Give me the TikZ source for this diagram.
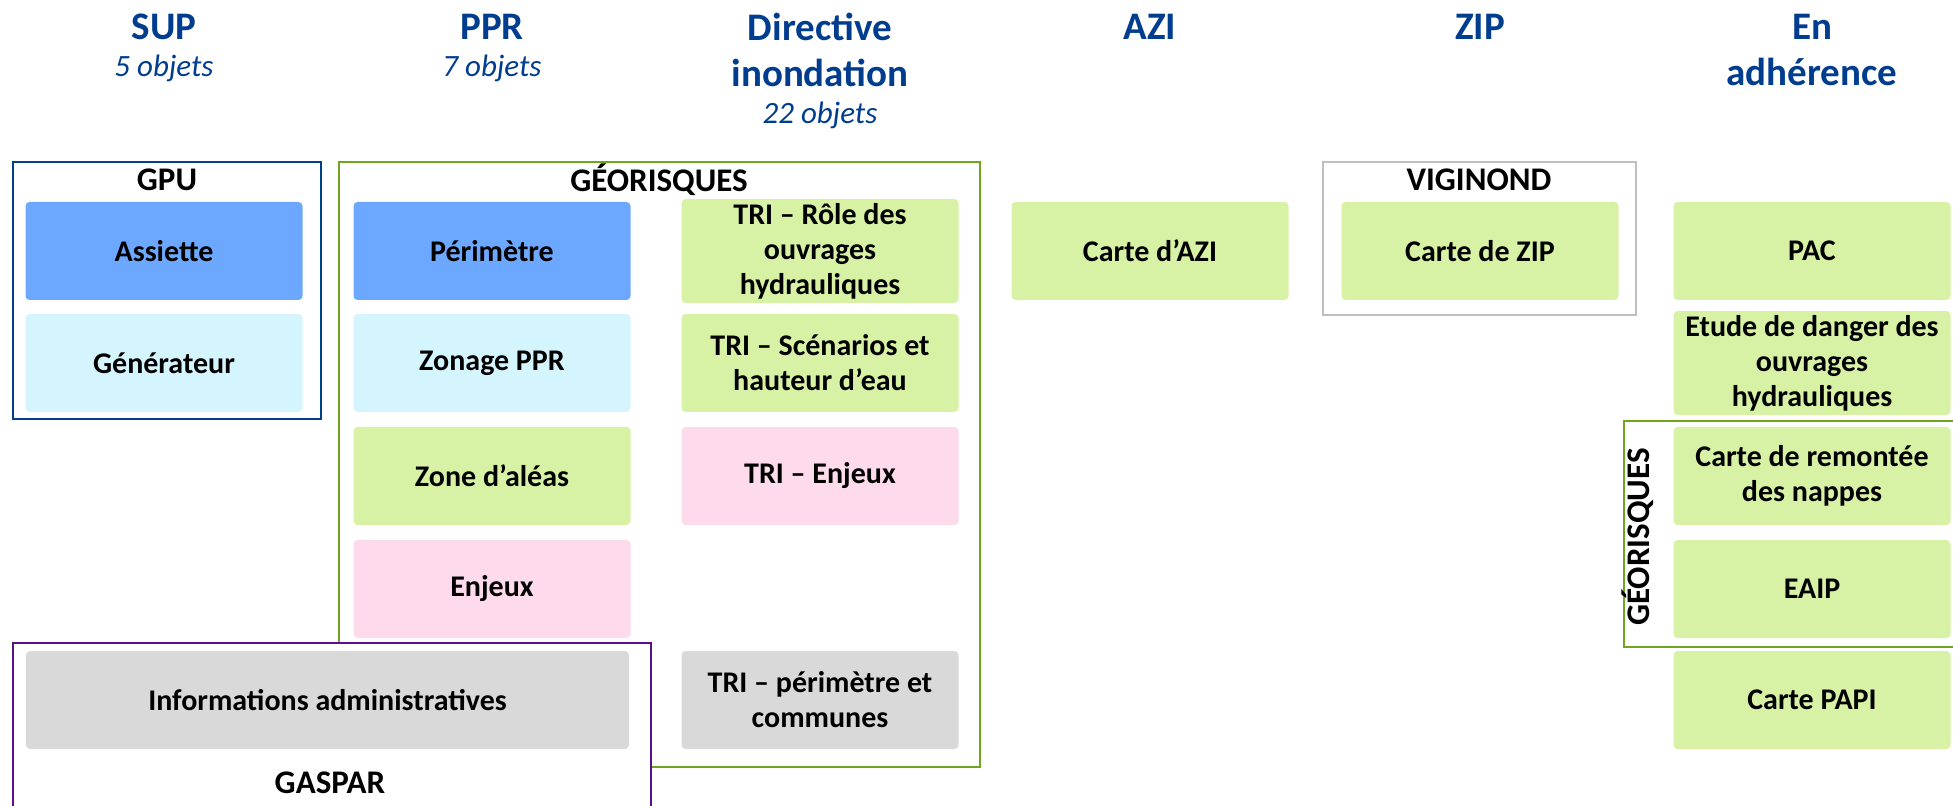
\documentclass[tikz,border=0pt]{standalone}
\usepackage{fontspec}
\setmainfont{Carlito}
\usepackage{tikz}
\usepackage{xcolor}

\definecolor{bleutitre}{RGB}{0,61,143}
\definecolor{bleu}{RGB}{108,168,255}
\definecolor{cyanclair}{RGB}{212,245,253}
\definecolor{vertclair}{RGB}{215,241,165}
\definecolor{rose}{RGB}{253,218,236}
\definecolor{grisclair}{RGB}{217,217,217}
\definecolor{cadrebleu}{RGB}{0,63,140}
\definecolor{cadrevert}{RGB}{112,165,32}
\definecolor{cadreviolet}{RGB}{90,15,140}
\definecolor{cadregris}{RGB}{191,191,191}

\tikzset{
  objet/.style={rounded corners=2pt, minimum width=138.5pt, minimum height=49pt,
    align=center, inner sep=2pt, font=\fontsize{15}{17.5}\selectfont\bfseries},
  cadre/.style={line width=1pt},
  titre/.style={text=bleutitre, align=center, font=\fontsize{19.5}{23}\selectfont\bfseries},
  nombre/.style={text=bleutitre, font=\fontsize{15.5}{18}\selectfont\itshape},
  etiquette/.style={font=\fontsize{16.5}{19}\selectfont\bfseries},
}

\begin{document}
\begin{tikzpicture}[x=0.5pt,y=-0.5pt]
\useasboundingbox (0,0) rectangle (1953,806);

% en-tetes des colonnes
\node [titre] (sup) at (164,27) {SUP};
\node [nombre] (supnb) at (164,68) {5 objets};
\node [titre] (ppr) at (492,27) {PPR};
\node [nombre] (pprnb) at (492,68) {7 objets};
\node [titre] (di) at (820,50) {Directive\\inondation};
\node [nombre] (dinb) at (820,115) {22 objets};
\node [titre] (azi) at (1150,27) {AZI};
\node [titre] (zip) at (1480,27) {ZIP};
\node [titre] (adh) at (1812,50) {En\\adhérence};

% cadres des sources
\draw [cadre, cadrebleu] (13,162) rectangle (321,419);
\node [etiquette] (gpu) at (167,180) {GPU};
\draw [cadre, cadrevert] (339,162) rectangle (980,767);
\node [etiquette] (geo) at (659,180) {GÉORISQUES};
\draw [cadre, cadregris] (1323,162) rectangle (1636,315);
\node [etiquette] (vigi) at (1479,180) {VIGINOND};
\draw [cadre, cadrevert] (1624,421) rectangle (1965,647);
\node [etiquette, rotate=90] (geo2) at (1638,537) {GÉORISQUES};
\draw [cadre, cadreviolet, fill=white] (13,643) rectangle (651,840);
\node [etiquette] (gaspar) at (330,783) {GASPAR};

% SUP
\node [objet, fill=bleu] (assiette) at (164,251) {Assiette};
\node [objet, fill=cyanclair] (generateur) at (164,363) {Générateur};

% PPR
\node [objet, fill=bleu] (perimetre) at (492,251) {Périmètre};
\node [objet, fill=cyanclair] (zonage) at (492,363) {Zonage PPR};
\node [objet, fill=vertclair] (aleas) at (492,476) {Zone d’aléas};
\node [objet, fill=rose] (enjeux) at (492,589) {Enjeux};
\node [objet, fill=grisclair, minimum width=301.5pt] (infos) at (327.5,700) {Informations administratives};

% Directive inondation
\node [objet, fill=vertclair] (triouv) at (820,251) {TRI – Rôle des\\ouvrages\\hydrauliques};
\node [objet, fill=vertclair] (triscen) at (820,363) {TRI – Scénarios et\\hauteur d’eau};
\node [objet, fill=rose] (trienj) at (820,476) {TRI – Enjeux};
\node [objet, fill=grisclair] (triperim) at (820,700) {TRI – périmètre et\\communes};

% AZI et ZIP
\node [objet, fill=vertclair] (carteazi) at (1150,251) {Carte d’AZI};
\node [objet, fill=vertclair] (cartezip) at (1480,251) {Carte de ZIP};

% En adherence
\node [objet, fill=vertclair] (pac) at (1812,251) {PAC};
\node [objet, fill=vertclair] (etude) at (1812,363) {Etude de danger des\\ouvrages\\hydrauliques};
\node [objet, fill=vertclair] (nappes) at (1812,476) {Carte de remontée\\des nappes};
\node [objet, fill=vertclair] (eaip) at (1812,589) {EAIP};
\node [objet, fill=vertclair] (papi) at (1812,700) {Carte PAPI};

\end{tikzpicture}
\end{document}
